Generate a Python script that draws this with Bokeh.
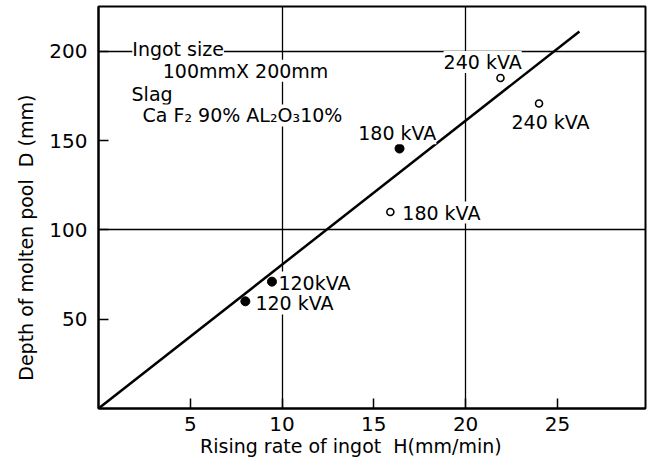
from bokeh.plotting import figure
from bokeh.models import Label, FixedTicker, Range1d
from bokeh.embed import file_html
from bokeh.resources import INLINE

# Data
h_filled = [8.0, 9.45, 16.4]
d_filled = [60.0, 71.0, 145.5]
h_open = [15.9, 21.9, 24.0]
d_open = [110.0, 185.0, 170.7]
fit_h = [0.0, 26.2]
fit_d = [0.0, 211.0]
x_ticks = [5, 10, 15, 20, 25]
y_ticks = [50, 100, 150, 200]
x_grid = [10, 20]
y_grid = [100, 200]

FONT = "DejaVu Sans"
NB = "\u00a0"

p = figure(width=648, height=460, output_backend="svg", toolbar_location=None,
           x_range=Range1d(0, 29.8), y_range=Range1d(0, 225),
           min_border_left=98, min_border_right=3, min_border_top=6,
           min_border_bottom=52)
p.frame_width = 547
p.frame_height = 402

p.outline_line_color = "black"
p.outline_line_width = 2
p.background_fill_color = "white"
p.border_fill_color = "white"

for ax in (p.xaxis[0], p.yaxis[0]):
    ax.axis_line_width = 2
    ax.axis_line_color = "black"
    ax.major_tick_in = 10
    ax.major_tick_out = 0
    ax.major_tick_line_width = 1.5
    ax.minor_tick_line_color = None
    ax.major_label_text_font = FONT
    ax.major_label_text_font_size = "20px"
    ax.major_label_text_color = "black"
    ax.axis_label_text_font = FONT
    ax.axis_label_text_font_size = "19px"
    ax.axis_label_text_font_style = "normal"
    ax.axis_label_text_color = "black"

p.xaxis.ticker = FixedTicker(ticks=x_ticks)
p.yaxis.ticker = FixedTicker(ticks=y_ticks)
p.xaxis.major_label_standoff = 8
p.yaxis.major_label_standoff = 11
p.xaxis.axis_label = "Rising rate of ingot" + NB * 2 + "H(mm/min)" + NB * 7
p.yaxis.axis_label = "Depth of molten pool" + NB * 2 + "D (mm)" + NB * 10
p.xaxis.axis_label_standoff = 1
p.yaxis.axis_label_standoff = 9

p.xgrid.ticker = FixedTicker(ticks=x_grid)
p.ygrid.ticker = FixedTicker(ticks=y_grid)
for g in (p.xgrid[0], p.ygrid[0]):
    g.grid_line_color = "black"
    g.grid_line_width = 1.3
    g.grid_line_alpha = 1.0

p.line(fit_h, fit_d, line_color="black", line_width=2.5)
p.scatter(h_filled, d_filled, size=9, fill_color="black", line_color="black")
p.scatter(h_open, d_open, size=7, fill_color="white", line_color="black", line_width=1.6)

def lab(x, y, t, size="19px", align="left"):
    p.add_layout(Label(x=x, y=y, text=t, text_font=FONT, text_font_size=size,
                       text_align=align, text_baseline="middle", text_color="black",
                       background_fill_color="white"))

# point labels
lab(8.55, 58.8, "120 kVA")
lab(9.8, 70.5, "120kVA")
lab(14.15, 154.0, "180 kVA")
lab(16.55, 109.7, "180 kVA")
lab(18.8, 194.0, "240 kVA")
lab(22.5, 160.6, "240 kVA")

# note block
lab(1.84, 201.0, "Ingot size")
lab(3.5, 189.0, "100mmX 200mm")
lab(1.8, 176.0, "Slag")
lab(2.4, 164.0, "Ca F\u2082 90% AL\u2082O\u208310%")

open("out.html", "w").write(file_html(p, INLINE))
